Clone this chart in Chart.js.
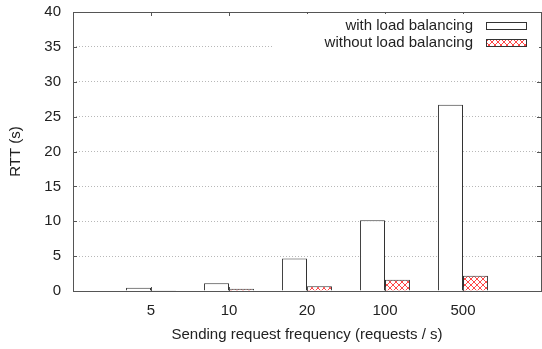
<!DOCTYPE html>
<html>
<head>
<meta charset="utf-8">
<script src="https://cdn.jsdelivr.net/npm/chart.js@4"></script>
<style>
  html, body { margin: 0; padding: 0; background: #fff; }
</style>
</head>
<body>
<canvas id="rtt" width="542" height="349"></canvas>
<script>
// request rates on the x axis, round-trip times in seconds
const frequencies = ['5', '10', '20', '100', '500'];
const withBalancing = [0.46, 1.12, 4.66, 10.15, 26.7];
const withoutBalancing = [0.1, 0.32, 0.69, 1.6, 2.18];
const yTicks = [0, 5, 10, 15, 20, 25, 30, 35, 40];

const FONT = { family: "'Liberation Sans', Arial, sans-serif", size: 15 };
const INK = '#222';
const FRAME = '#555';

// empty slots on both ends so the groups sit at 1..5 of a 0..6 axis
const labels = ['', ...frequencies, ''];
const pad = arr => [null, ...arr, null];

function crossHatch() {
  const c = document.createElement('canvas');
  c.width = c.height = 6;
  const g = c.getContext('2d');
  g.fillStyle = '#fff';
  g.fillRect(0, 0, 6, 6);
  g.strokeStyle = '#ff4848';
  g.lineWidth = 1;
  g.beginPath();
  g.moveTo(0, 0); g.lineTo(6, 6);
  g.moveTo(6, 0); g.lineTo(0, 6);
  g.stroke();
  return g.createPattern(c, 'repeat');
}

// fixed axis boxes, no extra room for overhanging labels
function fixBox(w, h) {
  return s => {
    if (w) s.width = w;
    if (h) s.height = h;
    s.paddingTop = s.paddingBottom = s.paddingLeft = s.paddingRight = 0;
  };
}

// gnuplot-like frame with inward ticks on all four sides
const frame = {
  id: 'frame',
  afterDatasetsDraw(chart) {
    const { ctx, chartArea: a, scales: { x, y } } = chart;
    ctx.save();
    ctx.strokeStyle = FRAME;
    ctx.lineWidth = 1;
    ctx.beginPath();
    yTicks.forEach(v => {
      const py = Math.round(y.getPixelForValue(v)) + 0.5;
      ctx.moveTo(a.left, py); ctx.lineTo(a.left + 4, py);
      ctx.moveTo(a.right, py); ctx.lineTo(a.right - 4, py);
    });
    frequencies.forEach((f, i) => {
      const px = Math.round(x.getPixelForValue(i + 1)) + 0.5;
      ctx.moveTo(px, a.top); ctx.lineTo(px, a.top + 4);
      ctx.moveTo(px, a.bottom); ctx.lineTo(px, a.bottom - 4);
    });
    ctx.stroke();
    ctx.strokeRect(Math.round(a.left) + 0.5, Math.round(a.top) + 0.5,
      Math.round(a.right - a.left), Math.round(a.bottom - a.top));
    ctx.restore();
  }
};

// key in the upper right corner: text first, sample box after it
const key = {
  id: 'key',
  afterDraw(chart) {
    const { ctx } = chart;
    ctx.save();
    ctx.fillStyle = '#fff';
    ctx.fillRect(273, 14, 266, 37);
    ctx.font = `${FONT.size}px ${FONT.family}`;
    ctx.textAlign = 'right';
    ctx.textBaseline = 'middle';
    chart.data.datasets.forEach((ds, i) => {
      const cy = 25.5 + i * 17.5;
      ctx.fillStyle = INK;
      ctx.fillText(ds.label, 473, cy);
      ctx.fillStyle = ds.backgroundColor;
      ctx.fillRect(486, Math.round(cy) - 4, 41, 8);
      ctx.strokeStyle = ds.borderColor;
      ctx.strokeRect(486.5, Math.round(cy) - 3.5, 40, 7);
    });
    ctx.restore();
  }
};

new Chart(document.getElementById('rtt'), {
  type: 'bar',
  data: {
    labels: labels,
    datasets: [
      {
        label: 'with load balancing',
        data: pad(withBalancing),
        backgroundColor: '#fff',
        borderColor: '#333',
        borderWidth: 1
      },
      {
        label: 'without load balancing',
        data: pad(withoutBalancing),
        backgroundColor: crossHatch(),
        borderColor: '#333',
        borderWidth: 1
      }
    ]
  },
  options: {
    responsive: false,
    devicePixelRatio: 1,
    animation: false,
    layout: { padding: { top: 12, right: 1, left: 0, bottom: 0 } },
    datasets: { bar: { categoryPercentage: 0.64, barPercentage: 1 } },
    plugins: { legend: { display: false }, tooltip: { enabled: false } },
    scales: {
      x: {
        type: 'category',
        offset: false,
        grid: { display: false },
        border: { display: false },
        ticks: { font: FONT, color: INK, padding: 3, maxRotation: 0, autoSkip: false },
        title: {
          display: true,
          text: 'Sending request frequency (requests / s)',
          font: FONT,
          color: INK,
          padding: { top: 0, bottom: 5 }
        },
        afterFit: fixBox(0, 58)
      },
      y: {
        min: 0,
        max: 40,
        afterBuildTicks: s => { s.ticks = yTicks.map(v => ({ value: v })); },
        grid: {
          drawTicks: false,
          color: c => (c.tick.value === 0 || c.tick.value === 40) ? 'rgba(0,0,0,0)' : '#b8b8b8',
          lineWidth: 1
        },
        border: { display: false, dash: [1, 2] },
        ticks: { font: FONT, color: INK, padding: 12 },
        title: {
          display: true,
          text: 'RTT (s)',
          font: FONT,
          color: INK,
          padding: { top: 7, bottom: 0 }
        },
        afterFit: fixBox(73, 0)
      }
    }
  },
  plugins: [frame, key]
});
</script>
</body>
</html>
